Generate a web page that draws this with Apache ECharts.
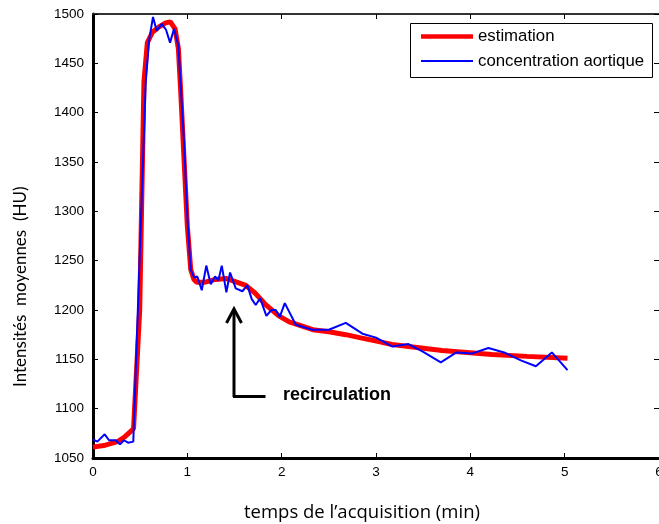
<!DOCTYPE html>
<html>
<head>
<meta charset="utf-8">
<script src="https://cdn.jsdelivr.net/npm/echarts@6/dist/echarts.min.js"></script>
<style>
html,body{margin:0;padding:0;background:#fff;}
#chart{width:659px;height:524px;}
</style>
</head>
<body>
<div id="chart"></div>
<script>
// ---- data ----
var blueX = [0, 0.046, 0.124, 0.17, 0.24, 0.286, 0.329, 0.371, 0.427, 0.559, 0.594, 0.636, 0.675, 0.729, 0.774, 0.817, 0.859, 0.905, 0.965, 1.0, 1.036, 1.071, 1.106, 1.153, 1.201, 1.248, 1.294, 1.329, 1.365, 1.414, 1.453, 1.513, 1.583, 1.636, 1.683, 1.725, 1.771, 1.838, 1.891, 1.937, 1.98, 2.033, 2.15, 2.325, 2.5, 2.68, 2.856, 3.0, 3.174, 3.344, 3.492, 3.687, 3.853, 4.022, 4.192, 4.358, 4.535, 4.695, 4.864, 5.03];
var blueY = [1069, 1066.6, 1074, 1068, 1068, 1064, 1068, 1065.5, 1066.6, 1431, 1473, 1497, 1483, 1490, 1484, 1471, 1485, 1468, 1370, 1295, 1241, 1233, 1234, 1220, 1245, 1226, 1234, 1230, 1245, 1218, 1238, 1222, 1219, 1225, 1211, 1205, 1212, 1194, 1200, 1200, 1193, 1207, 1185, 1180, 1180, 1187, 1176, 1172, 1163, 1165.5, 1158, 1147, 1157, 1156, 1161.5, 1157, 1149, 1143, 1157, 1139];
var redX = [0, 0.13, 0.26, 0.33, 0.4, 0.43, 0.495, 0.54, 0.576, 0.63, 0.70, 0.77, 0.82, 0.87, 0.905, 0.93, 0.965, 1.0, 1.036, 1.07, 1.1, 1.18, 1.3, 1.41, 1.5, 1.62, 1.72, 1.83, 1.97, 2.08, 2.33, 2.5, 2.68, 2.85, 3.03, 3.17, 3.7, 4.23, 4.6, 5.03];
var redY = [1061, 1063, 1066.6, 1071, 1077, 1080, 1200, 1431, 1471, 1481.5, 1487, 1491, 1492, 1485, 1465, 1421, 1353, 1285, 1241, 1231, 1228, 1228, 1231, 1232, 1229, 1225, 1217, 1205.5, 1194, 1188, 1180, 1178, 1175, 1171.5, 1168, 1165, 1159, 1155, 1153, 1151];
var seriesNames = ['estimation', 'concentration aortique'];
var xTitle = 'temps de l\u2019acquisition (min)';
var yTitle = 'Intensit\u00e9s  moyennes  (HU)';
var annotation = 'recirculation';

function pairs(xs, ys){ return xs.map(function(x,i){ return [x, ys[i]]; }); }

var chart = echarts.init(document.getElementById('chart'), null, {renderer:'canvas'});
var tickFont = {fontFamily:'Liberation Sans', fontSize:13.5, color:'#000'};
var legendText = {fontFamily:'Liberation Sans', fontSize:16.8, color:'#000', lineHeight:17};
var option = {
  animation:false,
  backgroundColor:'#fff',
  grid:{left:93, right:0, top:14, bottom:66, containLabel:false, outerBoundsMode:'none'},
  xAxis:[
    {type:'value', min:0, max:6, interval:1, position:'bottom',
     axisLine:{show:true, onZero:false, lineStyle:{color:'#000', width:3}},
     axisTick:{show:true, inside:true, length:5, lineStyle:{color:'#000', width:1}},
     axisLabel:Object.assign({margin:7, showMaxLabel:true, hideOverlap:false}, tickFont),
     splitLine:{show:false}},
    {type:'value', min:0, max:6, interval:1, position:'top',
     axisLine:{show:true, onZero:false, lineStyle:{color:'#333', width:2}},
     axisTick:{show:true, inside:true, length:5, lineStyle:{color:'#000', width:1}},
     axisLabel:{show:false}, splitLine:{show:false}}
  ],
  yAxis:[
    {type:'value', min:1050, max:1500, interval:50, position:'left',
     axisLine:{show:true, onZero:false, lineStyle:{color:'#000', width:3}},
     axisTick:{show:true, inside:true, length:5, lineStyle:{color:'#000', width:1}},
     axisLabel:Object.assign({margin:9, formatter:function(v){return String(v);}}, tickFont),
     splitLine:{show:false}},
    {type:'value', min:1050, max:1500, interval:50, position:'right',
     axisLine:{show:true, onZero:false, lineStyle:{color:'#999', width:1}},
     axisTick:{show:true, inside:true, length:5, lineStyle:{color:'#000', width:1}},
     axisLabel:{show:false}, splitLine:{show:false}}
  ],
  legend:[
    {orient:'vertical', left:421, top:28, padding:0, icon:'rect',
     itemWidth:52, itemHeight:4.5, textStyle:legendText, data:[seriesNames[0]], z:5},
    {orient:'vertical', left:421, top:52.5, padding:0, icon:'rect',
     itemWidth:52, itemHeight:2, textStyle:legendText, data:[seriesNames[1]], z:5}
  ],
  series:[
    {name:seriesNames[0], type:'line', data:pairs(redX, redY), symbol:'none', smooth:false,
     lineStyle:{color:'#ff0000', width:5}, itemStyle:{color:'#ff0000'}, z:2},
    {name:seriesNames[1], type:'line', data:pairs(blueX, blueY), symbol:'none', smooth:false,
     lineStyle:{color:'#0000ff', width:2}, itemStyle:{color:'#0000ff'}, z:3}
  ],
  graphic:[
    {type:'rect', z:4, shape:{x:410.5, y:23.5, width:242, height:54}, style:{fill:'#fff', stroke:'#000', lineWidth:1}},
    {type:'text', x:244, y:513, style:{text:xTitle, font:'18.5px "Open Sans"', fill:'#000', textVerticalAlign:'middle'}},
    {type:'text', rotation:Math.PI/2, x:21, y:387, style:{text:yTitle, font:'17px Lato', fill:'#000', textAlign:'left', textVerticalAlign:'middle'}},
    {type:'polyline', shape:{points:[[234,397],[234,310]]}, style:{stroke:'#000', lineWidth:3, fill:null}},
    {type:'polyline', shape:{points:[[226.5,323],[234,309],[241.5,323]]}, style:{stroke:'#000', lineWidth:3, fill:null}},
    {type:'polyline', shape:{points:[[233,396.5],[265.5,396.5]]}, style:{stroke:'#000', lineWidth:3, fill:null}},
    {type:'text', x:283, y:395, style:{text:annotation, font:'bold 18px "Liberation Sans"', fill:'#000', textVerticalAlign:'middle'}}
  ]
};
chart.setOption(option);
</script>
</body>
</html>
